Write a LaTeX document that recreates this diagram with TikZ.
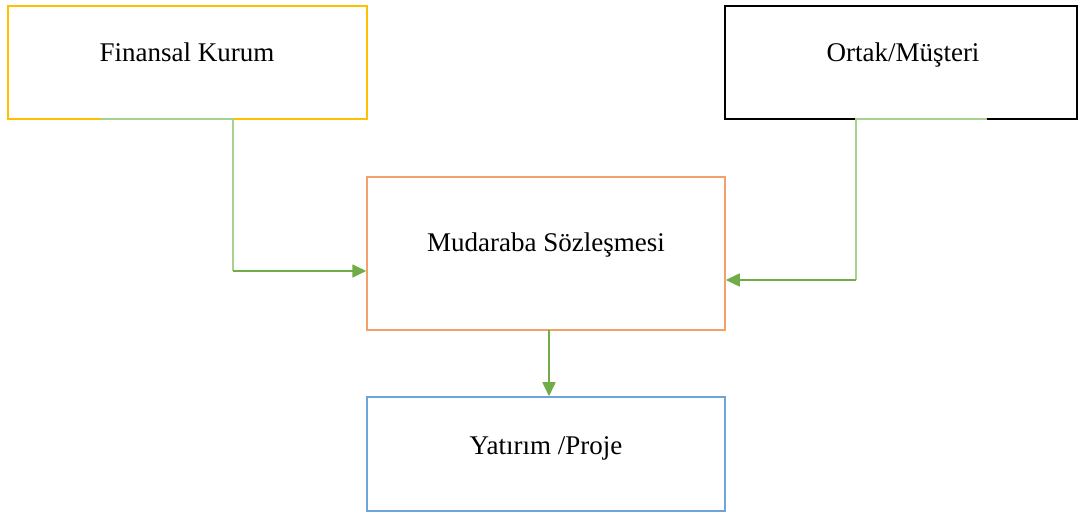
\documentclass[tikz,border=0pt]{standalone}
\usepackage{fontspec}
\setmainfont{Liberation Serif}
\usetikzlibrary{arrows.meta}
\definecolor{cyellow}{HTML}{FFC000}
\definecolor{corange}{HTML}{F4A06A}
\definecolor{cblue}{HTML}{6FA3DC}
\definecolor{cgreen}{HTML}{70AD47}
\definecolor{clgreen}{HTML}{A9D18E}
\begin{document}
\begin{tikzpicture}[x=1pt,y=-1pt,
  box/.style={draw, line width=1.5pt, fill=white, inner sep=0pt},
  lbl/.style={anchor=base, inner sep=0pt, font=\fontsize{27}{32}\selectfont},
  soft/.style={draw=clgreen, line width=1.6pt},
  conn/.style={draw=cgreen, line width=1.6pt, -{Triangle[width=13pt,length=14pt]}}]
\useasboundingbox (0,0) rectangle (1080,518);
% boxes
\node[box, draw=cyellow, minimum width=359pt, minimum height=113pt] (fk) at (187.5,62.5) {};
\node[box, draw=black, minimum width=352pt, minimum height=113pt] (om) at (901,62.5) {};
\node[box, draw=corange, minimum width=358pt, minimum height=153pt] (mud) at (546,253.5) {};
\node[box, draw=cblue, minimum width=358pt, minimum height=114pt] (yp) at (546,454) {};
% labels
\node[lbl] (tfk) at (187,62) {Finansal Kurum};
\node[lbl] (tom) at (903,62) {Ortak/Müşteri};
\node[lbl] (tmud) at (546,252) {Mudaraba Sözleşmesi};
\node[lbl] (typ) at (546,455) {Yatırım /Proje};
% connector waypoints
\coordinate (l0) at (100,119);
\coordinate (l1) at (233,119);
\coordinate (l2) at (233,271);
\coordinate (r0) at (987,119);
\coordinate (r1) at (856,119);
\coordinate (r2) at (856,280);
\coordinate (m0) at (549,330);
% connectors
\draw[soft] (l0) -- (l1) -- (l2);
\draw[conn] (l2) -- (mud.west |- l2);
\draw[soft] (r0) -- (r1) -- (r2);
\draw[conn] (r2) -- (mud.east |- r2);
\draw[conn] (m0) -- (m0 |- yp.north);
\end{tikzpicture}
\end{document}
